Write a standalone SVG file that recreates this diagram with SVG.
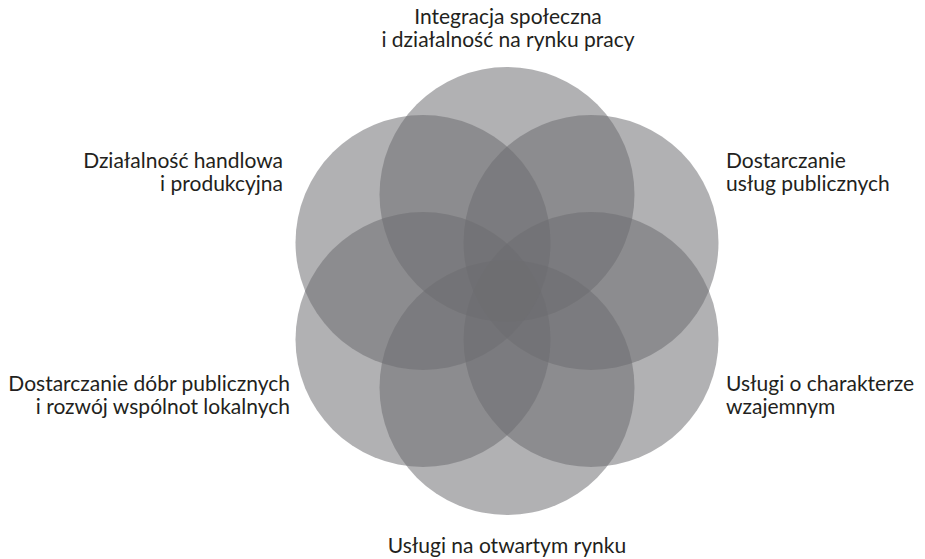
<svg xmlns="http://www.w3.org/2000/svg" width="925" height="559" viewBox="0 0 925 559">
<style>
.c{fill:#6c6d71;fill-opacity:0.535}
.t{font-family:Lato,"Open Sans","Liberation Sans",sans-serif;font-size:21px;fill:#231f20}
.m{text-anchor:middle}
.e{text-anchor:end}
</style>
<rect width="925" height="559" fill="#ffffff"/>
<g id="circles">
<circle id="c-top" class="c" cx="507" cy="194.5" r="127.5"/>
<circle id="c-upper-right" class="c" cx="591" cy="242.5" r="127.5"/>
<circle id="c-lower-right" class="c" cx="591" cy="339.5" r="127.5"/>
<circle id="c-bottom" class="c" cx="507" cy="387.5" r="127.5"/>
<circle id="c-lower-left" class="c" cx="423" cy="339.5" r="127.5"/>
<circle id="c-upper-left" class="c" cx="423" cy="242.5" r="127.5"/>
</g>
<g id="connectors"></g>
<g id="label-top"><text class="t m" x="508" y="24">Integracja społeczna</text><text class="t m" x="508" y="47">i działalność na rynku pracy</text></g>
<g id="label-upper-left"><text class="t e" x="283" y="168">Działalność handlowa</text><text class="t e" x="283" y="191">i produkcyjna</text></g>
<g id="label-upper-right"><text class="t" x="726" y="168">Dostarczanie</text><text class="t" x="726" y="191">usług publicznych</text></g>
<g id="label-lower-left"><text class="t e" x="290" y="391">Dostarczanie dóbr publicznych</text><text class="t e" x="290" y="414">i rozwój wspólnot lokalnych</text></g>
<g id="label-lower-right"><text class="t" x="726" y="391">Usługi o charakterze</text><text class="t" x="726" y="414">wzajemnym</text></g>
<g id="label-bottom"><text class="t m" x="507" y="553">Usługi na otwartym rynku</text></g>
</svg>
